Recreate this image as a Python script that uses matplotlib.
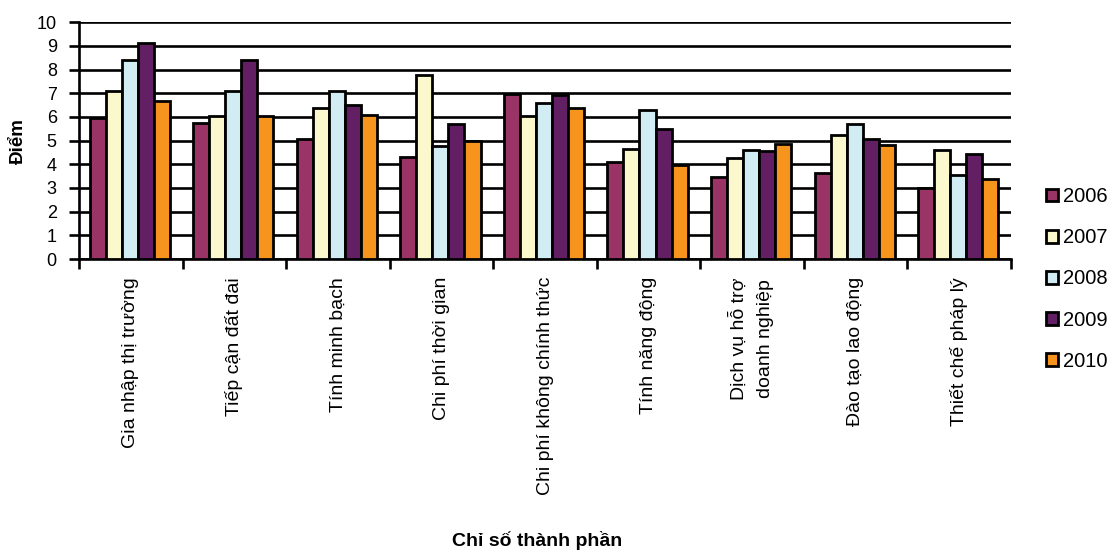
import matplotlib
matplotlib.use("Agg")
import matplotlib.pyplot as plt
import numpy as np

plt.rcParams['font.family'] = ['Liberation Sans', 'DejaVu Sans']

# categories (x axis) and yearly scores
categories = ['Gia nhập thị trường', 'Tiếp cận đất đai', 'Tính minh bạch',
              'Chi phí thời gian', 'Chi phí không chính thức', 'Tính năng động',
              'Dịch vụ hỗ trợ\ndoanh nghiệp', 'Đào tạo lao động', 'Thiết chế pháp lý']
years = ['2006', '2007', '2008', '2009', '2010']
s2006 = [5.97, 5.75, 5.08, 4.33, 6.97, 4.08, 3.46, 3.64, 2.98]
s2007 = [7.10, 6.04, 6.36, 7.76, 6.04, 4.66, 4.27, 5.25, 4.62]
s2008 = [8.40, 7.10, 7.08, 4.76, 6.61, 6.29, 4.62, 5.71, 3.55]
s2009 = [9.13, 8.40, 6.49, 5.69, 6.94, 5.48, 4.55, 5.08, 4.43]
s2010 = [6.69, 6.05, 6.08, 4.99, 6.39, 3.96, 4.85, 4.83, 3.36]
series = [s2006, s2007, s2008, s2009, s2010]
colors = ['#9A3366', '#FBF8CE', '#D2ECF3', '#631F63', '#F7941E']

fig = plt.figure(figsize=(11.12, 5.5), dpi=100)
ax = fig.add_axes([79/1112, 1-259/550, (1011-79)/1112, (259-22.3)/550])

x = np.arange(len(categories))
w = 0.155
for i, (vals, c, yr) in enumerate(zip(series, colors, years)):
    ax.bar(x + (i-2)*w - 0.01, vals, w, color=c, edgecolor='black',
           linewidth=2.0, label=yr, zorder=3)

ax.set_xlim(-0.5, len(categories)-0.5)
ax.set_ylim(0, 10)
ax.set_yticks(range(0, 11))
ax.yaxis.grid(True, color='black', linewidth=1.9, zorder=0)
ax.set_axisbelow(True)

# ticks on group boundaries, labels at group centres
ax.set_xticks(np.arange(-0.5, len(categories)))
ax.set_xticklabels([])
ax.set_xticks(x, minor=True)
ax.set_xticklabels(categories, minor=True, rotation=90, fontsize=14,
                   va='top', ha='center', linespacing=1.7)
ax.tick_params(axis='x', which='minor', length=0, pad=13)
ax.tick_params(axis='x', which='major', length=7, width=1.9, direction='out')
ax.tick_params(axis='y', length=7, width=1.9, labelsize=13, pad=9)

for s in ['top', 'right']:
    ax.spines[s].set_visible(False)
for s in ['left', 'bottom']:
    ax.spines[s].set_linewidth(1.9)

ax.set_ylabel('Điểm', fontweight='bold', fontsize=13.5)
ax.yaxis.set_label_coords((27-79)/932, 0.5)
fig.text(537/1112, 1-540/550, 'Chỉ số thành phần', fontweight='bold',
         fontsize=14, ha='center', va='center')

fig.legend(loc='center left', bbox_to_anchor=(1046/1112, 1-279/550),
           bbox_transform=fig.transFigure, frameon=False, fontsize=14.5,
           handlelength=0.6, handleheight=0.6, handletextpad=0.25,
           labelspacing=1.1, borderpad=0, borderaxespad=0)

fig.savefig('out.png', dpi=100)
